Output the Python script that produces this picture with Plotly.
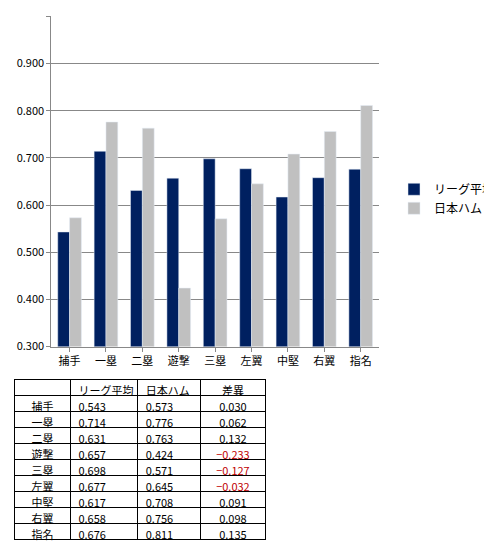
import plotly.graph_objects as go

positions = ["捕手","一塁","二塁","遊撃","三塁","左翼","中堅","右翼","指名"]
league = [0.543,0.714,0.631,0.657,0.698,0.677,0.617,0.658,0.676]
fighters = [0.573,0.776,0.763,0.424,0.571,0.645,0.708,0.756,0.811]
diff = [0.030,0.062,0.132,-0.233,-0.127,-0.032,0.091,0.098,0.135]

F = "Noto Sans CJK JP"
fig = go.Figure()
fig.add_bar(x=positions, y=league, name="リーグ平均", marker_color="#002060")
fig.add_bar(x=positions, y=fighters, name="日本ハム", marker_color="#c0c0c0")

def fmt(v):
    return ("−%.3f" % -v) if v < 0 else "%.3f" % v

cols = [positions,
        ["%.3f" % v for v in league],
        ["%.3f" % v for v in fighters],
        [fmt(v) for v in diff]]
colors = [["black"]*9, ["black"]*9, ["black"]*9,
          [("#c00000" if v < 0 else "black") for v in diff]]
fig.add_trace(go.Table(
    domain=dict(x=[0.014, 0.545], y=[0.0, 0.31]),
    columnwidth=[58, 70, 65, 68],
    header=dict(values=["", "リーグ平均", "日本ハム", "差異"], height=16,
                align=["center", "left", "left", "center"],
                line=dict(color="black", width=1), fill_color="white",
                font=dict(family=F, size=11, color="black")),
    cells=dict(values=cols, height=16, align=["center", "left", "left", "center"],
               line=dict(color="black", width=1), fill_color="white",
               font=dict(family=F, size=11, color=colors)),
))

fig.update_layout(
    width=492, height=545, margin=dict(l=0, r=0, t=0, b=0),
    paper_bgcolor="white", plot_bgcolor="white",
    font=dict(family=F, size=11, color="black"),
    bargap=0.35, bargroupgap=0,
    xaxis=dict(domain=[0.0915, 0.7825], showline=True, linecolor="#888", ticks="outside",
               ticklen=4, tickcolor="#888"),
    yaxis=dict(domain=[0.3706, 0.985], range=[0.3, 1.0005], tickvals=[0.3,0.4,0.5,0.6,0.7,0.8,0.9,1.0],
               tickformat=".3f",
               showgrid=True, gridcolor="#888", showline=True, linecolor="#888",
               ticks="outside", ticklen=4, tickcolor="#888"),
    legend=dict(x=0.815, y=0.69, xanchor="left", yanchor="top", font=dict(size=12),
                itemwidth=30, tracegroupgap=6),
)
fig.write_html("out.html")
